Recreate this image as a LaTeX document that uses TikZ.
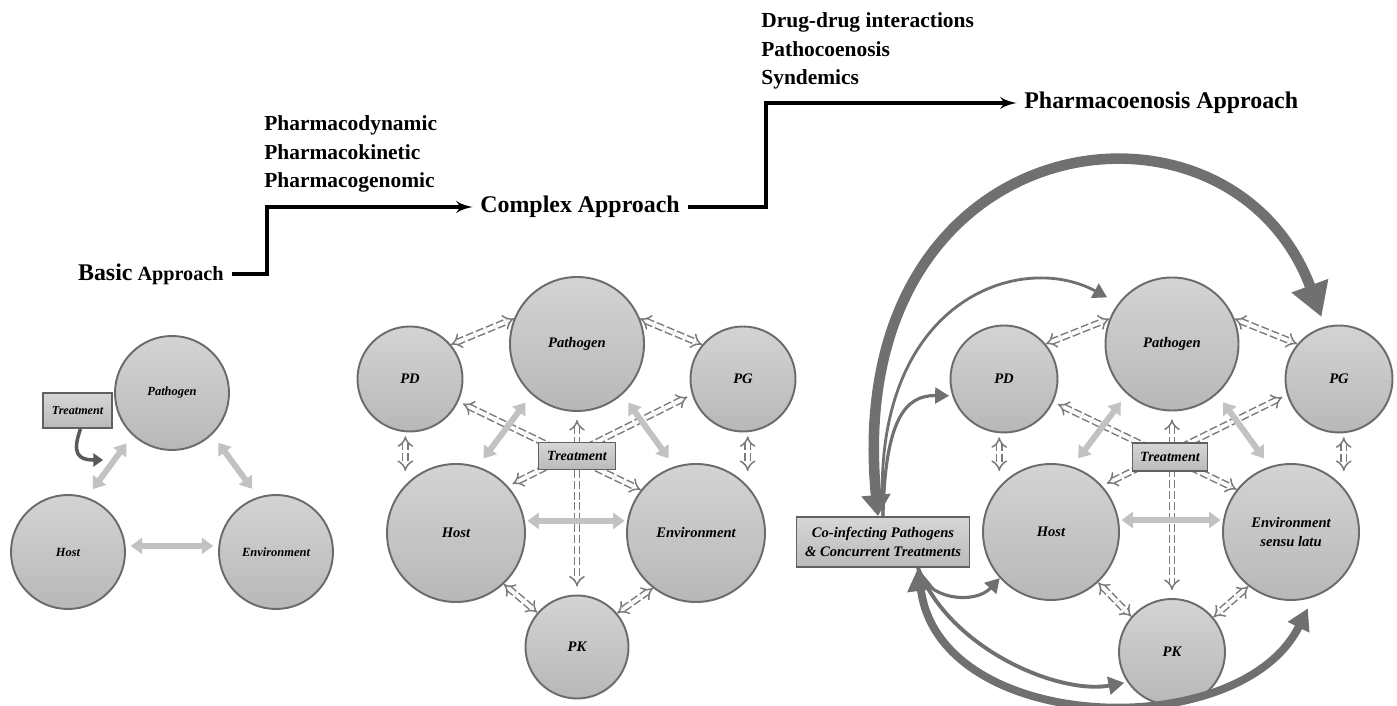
\documentclass[tikz,border=0pt]{standalone}
\usepackage{fontspec}
\setmainfont{Liberation Serif}
\usepackage{tikz}
\usetikzlibrary{arrows, arrows.meta, positioning}

\tikzset{
  bubble/.style={circle, draw=black!58, line width=1.1pt, top color=black!17, bottom color=black!28, inner sep=0pt, align=center, font=\bfseries\itshape\fontsize{8.3pt}{11.3pt}\selectfont},
  bubblesmall/.style={bubble, minimum size=2.28cm, font=\bfseries\itshape\fontsize{7.1pt}{9pt}\selectfont},
  treatbox/.style={rectangle, draw=black!62, line width=1.1pt, top color=black!16, bottom color=black!27, inner sep=1pt, align=center, font=\bfseries\itshape\fontsize{8pt}{10.8pt}\selectfont},
  dashlink/.style={draw=black!52, line width=0.85pt, double=white, double distance=2.2pt, dash pattern=on 4.5pt off 1.7pt, {Implies}-{Implies}},
  lightlink/.style={draw=black!24, line width=3.4pt, {Triangle[width=9pt,length=6.5pt]}-{Triangle[width=9pt,length=6.5pt]}},
  darklink/.style={draw=black!56},
  approach/.style={inner sep=0.15cm, font=\bfseries\fontsize{13.6pt}{16pt}\selectfont},
  steplist/.style={inner sep=0.15cm, align=left, font=\bfseries\fontsize{12.2pt}{16.4pt}\selectfont}
}

\begin{document}
\begin{tikzpicture}
		\useasboundingbox (0cm, 0cm) rectangle (27.94cm, 14.12cm);
		% steps of the approach
		\node [approach, anchor=east, font=\bfseries\fontsize{11.5pt}{14pt}\selectfont] (basicA) at (4.63cm, 8.64cm) {{\fontsize{13.6pt}{16pt}\selectfont Basic} Approach};
		\node [approach, anchor=west] (complexA) at (9.45cm, 9.98cm) {Complex Approach};
		\node [approach, anchor=west] (pharmA) at (20.33cm, 12.06cm) {Pharmacoenosis Approach};
		\node [steplist, anchor=west] (listA) at (5.13cm, 11.04cm) {Pharmacodynamic\\Pharmacokinetic\\Pharmacogenomic};
		\node [steplist, anchor=west] (listB) at (15.07cm, 13.10cm) {Drug-drug interactions\\Pathocoenosis\\Syndemics};
		\coordinate (kneeA) at (5.34cm, 9.98cm);
		\coordinate (kneeB) at (15.32cm, 12.06cm);
		\path [draw, -latex', line width=2.2pt] (basicA.east) -| (kneeA) -- (complexA.west);
		\path [draw, -latex', line width=2.2pt] (complexA.east) -| (kneeB) -- (pharmA.west);

		% basic approach
		\node [bubblesmall] (pathL) at (3.44cm, 6.26cm) {Pathogen};
		\node [bubblesmall] (hostL) at (1.36cm, 3.08cm) {Host};
		\node [bubblesmall] (envL) at (5.52cm, 3.08cm) {Environment};
		\path [draw, lightlink, shorten <=0.2cm, shorten >=0.2cm] (hostL.71) -- (pathL.227);
		\path [draw, lightlink, shorten <=0.2cm, shorten >=0.2cm] (envL.108) -- (pathL.314);
		\path [draw, lightlink, shorten <=0.1cm, shorten >=0.1cm] (hostL.6) -- (envL.174);
		\node [treatbox, minimum width=1.38cm, minimum height=0.7cm, font=\bfseries\itshape\fontsize{6.9pt}{8pt}\selectfont] (treatL) at (1.55cm, 5.91cm) {Treatment};
		\coordinate (hookL) at (2.06cm, 4.92cm);
		\path [draw, black!65, line width=2pt, -{Triangle[width=7.5pt,length=5.5pt]}] ([xshift=0.06cm]treatL.south) to [out=250, in=180, looseness=1.7] (hookL);

		% complex approach
		\node [bubble, minimum size=2.68cm] (pathM) at (11.54cm, 7.24cm) {Pathogen};
		\node [bubble, minimum size=2.1cm] (pdM) at (8.20cm, 6.54cm) {PD};
		\node [bubble, minimum size=2.1cm] (pgM) at (14.86cm, 6.54cm) {PG};
		\node [bubble, minimum size=2.76cm] (hostM) at (9.12cm, 3.46cm) {Host};
		\node [bubble, minimum size=2.76cm] (envM) at (13.92cm, 3.46cm) {Environment};
		\node [bubble, minimum size=2.06cm] (pkM) at (11.54cm, 1.18cm) {PK};
		\path [dashlink] (pdM.40) -- (pathM.158);
		\path [dashlink] (pathM.22) -- (pgM.140);
		\path [dashlink, shorten <=0.08cm, shorten >=-0.16cm] (pdM.265) -- (pdM.265 |- hostM.north);
		\path [dashlink, shorten <=0.08cm, shorten >=-0.16cm] (pgM.275) -- (pgM.275 |- envM.north);
		\path [dashlink] (hostM.-47) -- (pkM.139);
		\path [dashlink] (envM.232) -- (pkM.40);
		\path [dashlink, shorten <=0.1cm] (pdM.335) -- (envM.142);
		\path [dashlink, shorten <=0.1cm, shorten >=0.1cm] (pgM.197) -- (hostM.42);
		\path [dashlink, shorten <=0.16cm, shorten >=0.16cm] (pathM.south) -- (pkM.north);
		\path [draw, lightlink, shorten <=0.2cm, shorten >=0.2cm] (hostM.72) -- (pathM.228);
		\path [draw, lightlink, shorten <=0.2cm, shorten >=0.2cm] (envM.108) -- (pathM.312);
		\path [draw, lightlink, shorten <=0.05cm, shorten >=0.05cm] (hostM.10) -- (envM.170);
		\node [treatbox, minimum width=1.54cm, minimum height=0.54cm] (treatM) at (11.54cm, 5.00cm) {Treatment};

		% pharmacoenosis approach
		\node [bubble, minimum size=2.66cm] (pathR) at (23.44cm, 7.24cm) {Pathogen};
		\node [bubble, minimum size=2.14cm] (pdR) at (20.08cm, 6.54cm) {PD};
		\node [bubble, minimum size=2.14cm] (pgR) at (26.78cm, 6.54cm) {PG};
		\node [bubble, minimum size=2.72cm] (hostR) at (21.02cm, 3.48cm) {Host};
		\node [bubble, minimum size=2.72cm] (envR) at (25.82cm, 3.48cm) {Environment\\sensu latu};
		\node [bubble, minimum size=2.12cm] (pkR) at (23.44cm, 1.08cm) {PK};
		\path [dashlink] (pdR.40) -- (pathR.158);
		\path [dashlink] (pathR.22) -- (pgR.140);
		\path [dashlink, shorten <=0.08cm, shorten >=-0.16cm] (pdR.265) -- (pdR.265 |- hostR.north);
		\path [dashlink, shorten <=0.08cm, shorten >=-0.16cm] (pgR.275) -- (pgR.275 |- envR.north);
		\path [dashlink] (hostR.-47) -- (pkR.139);
		\path [dashlink] (envR.232) -- (pkR.40);
		\path [dashlink, shorten <=0.1cm] (pdR.335) -- (envR.142);
		\path [dashlink, shorten <=0.1cm, shorten >=0.1cm] (pgR.197) -- (hostR.42);
		\path [dashlink, shorten <=0.16cm, shorten >=0.16cm] (pathR.south) -- (pkR.north);
		\path [draw, lightlink, shorten <=0.2cm, shorten >=0.2cm] (hostR.72) -- (pathR.228);
		\path [draw, lightlink, shorten <=0.2cm, shorten >=0.2cm] (envR.108) -- (pathR.312);
		\path [draw, lightlink, shorten <=0.05cm, shorten >=0.05cm] (hostR.10) -- (envR.170);
		\node [treatbox, minimum width=1.5cm, minimum height=0.56cm] (treatR) at (23.40cm, 4.98cm) {Treatment};
		\node [treatbox, minimum width=3.46cm, minimum height=1.0cm, font=\bfseries\itshape\fontsize{8.3pt}{10.8pt}\selectfont] (coR) at (17.66cm, 3.28cm) {Co-infecting Pathogens\\\& Concurrent Treatments};

		% links of the co-infections
		\path [darklink, line width=6pt, {Triangle[width=16pt,length=12pt]}-{Triangle[width=21pt,length=19pt]}, shorten >=0.2cm] ([xshift=-0.1cm]coR.north) .. controls (16.80cm, 11.72cm) and (24.60cm, 12.72cm) .. (pgR.105);
		\path [darklink, line width=1.6pt, -{Triangle[width=9pt,length=8pt]}, shorten >=0.25cm] (coR.north) .. controls (17.40cm, 8.12cm) and (20.40cm, 9.12cm) .. (pathR.143);
		\path [darklink, line width=1.8pt, -{Triangle[width=9pt,length=8pt]}, shorten >=0.06cm] (coR.north) .. controls (17.70cm, 5.72cm) and (18.10cm, 6.22cm) .. (pdR.198);
		\path [darklink, line width=1.8pt, -{Triangle[width=9pt,length=8pt]}] ([xshift=0.7cm]coR.south) .. controls (18.50cm, 2.12cm) and (19.50cm, 2.02cm) .. (hostR.222);
		\path [darklink, line width=2.2pt, -{Triangle[width=10pt,length=9pt]}, shorten >=0.06cm] ([xshift=0.7cm]coR.south) .. controls (19.00cm, 1.12cm) and (21.20cm, 0.22cm) .. (pkR.214);
		\path [darklink, line width=4.5pt, {Triangle[width=15pt,length=13pt]}-{Triangle[width=13pt,length=12pt]}, shorten >=0.25cm] ([xshift=0.7cm]coR.south) .. controls (18.80cm, -0.58cm) and (24.80cm, -0.78cm) .. (envR.289);
	\end{tikzpicture}
\end{document}
